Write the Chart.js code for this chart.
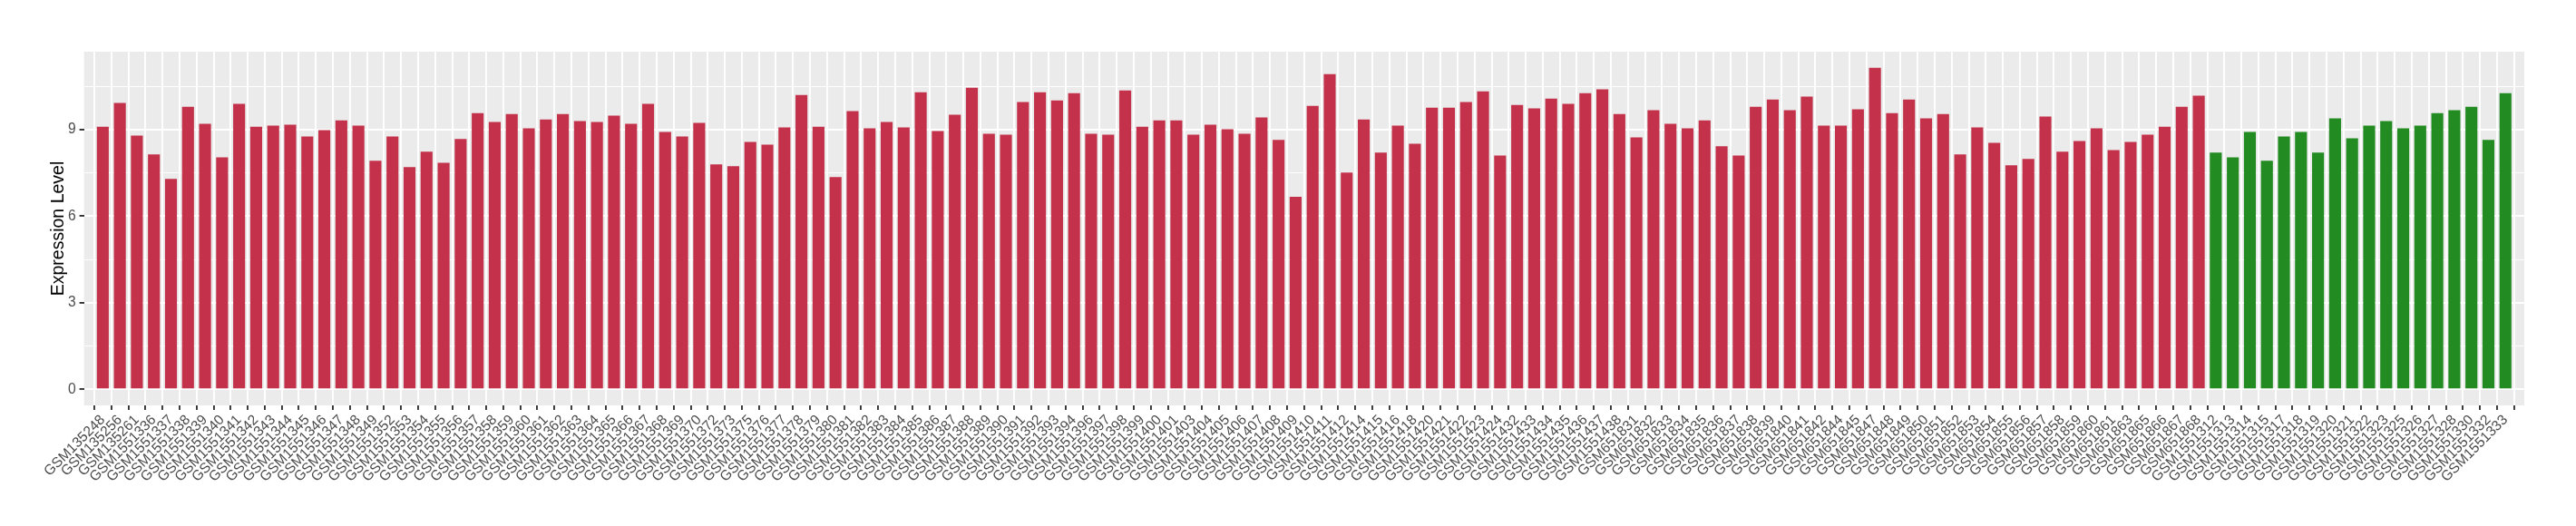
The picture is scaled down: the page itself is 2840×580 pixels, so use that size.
<!DOCTYPE html>
<html>
<head>
<meta charset="utf-8">
<script src="https://cdn.jsdelivr.net/npm/chart.js@4"></script>
<style>
  html, body { margin: 0; padding: 0; background: #ffffff; }
  #expressionChart { display: block; }
</style>
</head>
<body>
<canvas id="expressionChart" width="2840" height="580"></canvas>
<script>
const redSamples = [
  "GSM135248", "GSM135256", "GSM135261",
  "GSM1551336", "GSM1551337", "GSM1551338", "GSM1551339", "GSM1551340", "GSM1551341", "GSM1551342",
  "GSM1551343", "GSM1551344", "GSM1551345", "GSM1551346", "GSM1551347", "GSM1551348", "GSM1551349",
  "GSM1551352", "GSM1551353", "GSM1551354", "GSM1551355", "GSM1551356", "GSM1551357", "GSM1551358",
  "GSM1551359", "GSM1551360", "GSM1551361", "GSM1551362", "GSM1551363", "GSM1551364", "GSM1551365",
  "GSM1551366", "GSM1551367", "GSM1551368", "GSM1551369", "GSM1551370", "GSM1551372", "GSM1551373",
  "GSM1551375", "GSM1551376", "GSM1551377", "GSM1551378", "GSM1551379", "GSM1551380", "GSM1551381",
  "GSM1551382", "GSM1551383", "GSM1551384", "GSM1551385", "GSM1551386", "GSM1551387", "GSM1551388",
  "GSM1551389", "GSM1551390", "GSM1551391", "GSM1551392", "GSM1551393", "GSM1551394", "GSM1551396",
  "GSM1551397", "GSM1551398", "GSM1551399", "GSM1551400", "GSM1551401", "GSM1551403", "GSM1551404",
  "GSM1551405", "GSM1551406", "GSM1551407", "GSM1551408", "GSM1551409", "GSM1551410", "GSM1551411",
  "GSM1551412", "GSM1551414", "GSM1551415", "GSM1551416", "GSM1551418", "GSM1551420", "GSM1551421",
  "GSM1551422", "GSM1551423", "GSM1551424", "GSM1551432", "GSM1551433", "GSM1551434", "GSM1551435",
  "GSM1551436", "GSM1551437", "GSM1551438",
  "GSM651831", "GSM651832", "GSM651833", "GSM651834", "GSM651835", "GSM651836", "GSM651837",
  "GSM651838", "GSM651839", "GSM651840", "GSM651841", "GSM651842", "GSM651844", "GSM651845",
  "GSM651847", "GSM651848", "GSM651849", "GSM651850", "GSM651851", "GSM651852", "GSM651853",
  "GSM651854", "GSM651855", "GSM651856", "GSM651857", "GSM651858", "GSM651859", "GSM651860",
  "GSM651861", "GSM651863", "GSM651865", "GSM651866", "GSM651867", "GSM651868"
];

const redValues = [
  9.10, 9.92, 8.79, 8.14, 7.29, 9.79, 9.20, 8.04, 9.89, 9.10,
  9.14, 9.17, 8.76, 8.98, 9.32, 9.14, 7.92, 8.76, 7.70, 8.23,
  7.85, 8.67, 9.57, 9.26, 9.54, 9.04, 9.35, 9.54, 9.29, 9.26,
  9.48, 9.20, 9.89, 8.92, 8.76, 9.23, 7.79, 7.73, 8.57, 8.48,
  9.07, 10.20, 9.10, 7.35, 9.64, 9.04, 9.26, 9.07, 10.29, 8.95,
  9.51, 10.45, 8.85, 8.82, 9.95, 10.29, 10.01, 10.26, 8.85, 8.82,
  10.35, 9.10, 9.32, 9.32, 8.82, 9.17, 9.01, 8.85, 9.42, 8.64,
  6.67, 9.82, 10.92, 7.51, 9.35, 8.20, 9.14, 8.51, 9.76, 9.76,
  9.95, 10.32, 8.10, 9.85, 9.73, 10.07, 9.89, 10.26, 10.39, 9.54,
  8.73, 9.67, 9.20, 9.04, 9.32, 8.42, 8.10, 9.79, 10.04, 9.67,
  10.14, 9.14, 9.14, 9.70, 11.14, 9.57, 10.04, 9.39, 9.54, 8.14,
  9.07, 8.54, 7.76, 7.98, 9.45, 8.23, 8.60, 9.04, 8.29, 8.57,
  8.82, 9.10, 9.79, 10.17
];

const greenSamples = [
  "GSM1551312", "GSM1551313", "GSM1551314", "GSM1551315", "GSM1551317", "GSM1551318",
  "GSM1551319", "GSM1551320", "GSM1551321", "GSM1551322", "GSM1551323", "GSM1551325",
  "GSM1551326", "GSM1551327", "GSM1551328", "GSM1551330", "GSM1551332", "GSM1551333"
];

const greenValues = [
  8.20, 8.04, 8.92, 7.92, 8.76, 8.92, 8.20, 9.39, 8.70, 9.14,
  9.29, 9.04, 9.14, 9.57, 9.67, 9.79, 8.64, 10.26
];

const yTicks = [0, 1.5, 3, 4.5, 6, 7.5, 9, 10.5];

const allSamples = redSamples.concat(greenSamples);

// ggplot style expand: 5% on y, 0.6 of a category on x
const maxValue = Math.max(...redValues, ...greenValues);

// grey panel behind the grid
const panelBackground = {
  id: 'panelBackground',
  beforeDraw(chart) {
    const { ctx, chartArea } = chart;
    ctx.save();
    ctx.fillStyle = '#EBEBEB';
    ctx.fillRect(chartArea.left, chartArea.top, chartArea.right - chartArea.left, chartArea.bottom - chartArea.top);
    ctx.restore();
  }
};

const chartCtx = document.getElementById('expressionChart');

new Chart(chartCtx, {
  type: 'bar',
  data: {
    datasets: [{
      label: 'red',
      data: redValues.map((v, i) => ({ x: i + 1, y: v })),
      backgroundColor: '#C3324A',
      grouped: false
    }, {
      label: 'green',
      data: greenValues.map((v, i) => ({ x: redValues.length + i + 1, y: v })),
      backgroundColor: '#228B22',
      grouped: false
    }]
  },
  options: {
    responsive: false,
    animation: false,
    categoryPercentage: 1.0,
    barPercentage: 0.7,
    layout: {
      padding: { top: 57, right: 57, left: 0, bottom: 0 }
    },
    plugins: {
      legend: { display: false },
      tooltip: { enabled: false }
    },
    scales: {
      x: {
        type: 'linear',
        min: 0.4,
        max: allSamples.length + 0.6,
        afterBuildTicks: (scale) => {
          scale.ticks = allSamples.map((_, i) => ({ value: i + 1 }));
        },
        afterFit: (scale) => {
          scale.height = 133;
        },
        border: { display: false },
        grid: {
          color: '#FFFFFF',
          lineWidth: 1.9,
          drawTicks: true,
          tickLength: 5,
          tickColor: '#333333',
          tickWidth: 1.9
        },
        ticks: {
          autoSkip: false,
          minRotation: 45,
          maxRotation: 45,
          padding: 2,
          color: '#4D4D4D',
          font: { family: '"Liberation Sans", Arial, sans-serif', size: 15.6 },
          callback: (value) => allSamples[value - 1]
        }
      },
      y: {
        min: -0.05 * maxValue,
        max: 1.05 * maxValue,
        afterBuildTicks: (scale) => {
          scale.ticks = yTicks.map((v) => ({ value: v }));
        },
        afterFit: (scale) => {
          scale.width = 92.6;
        },
        border: { display: false },
        grid: {
          color: '#FFFFFF',
          lineWidth: (c) => (c.tick && c.tick.value % 3 === 0 ? 1.9 : 0.95),
          drawTicks: true,
          tickLength: 5,
          tickColor: (c) => (c.tick && c.tick.value % 3 === 0 ? '#333333' : 'rgba(0,0,0,0)'),
          tickWidth: 1.9
        },
        ticks: {
          padding: 4,
          color: '#4D4D4D',
          font: { family: '"Liberation Sans", Arial, sans-serif', size: 15.6 },
          callback: (value) => (value % 3 === 0 ? String(value) : '')
        },
        title: {
          display: true,
          text: 'Expression Level',
          color: '#000000',
          padding: { top: 53, bottom: 0 },
          font: { family: '"Liberation Sans", Arial, sans-serif', size: 19.5 }
        }
      }
    }
  },
  plugins: [panelBackground]
});
</script>
</body>
</html>
